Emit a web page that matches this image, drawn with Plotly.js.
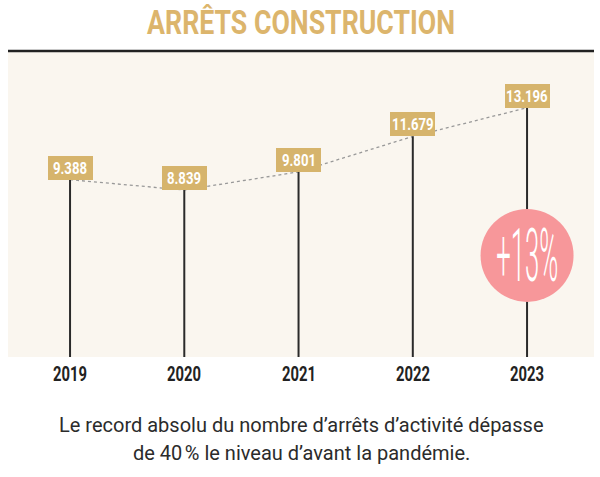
<!DOCTYPE html>
<html>
<head>
<meta charset="utf-8">
<script src="https://cdn.plot.ly/plotly-3.0.1.min.js"></script>
<style>
  html, body { margin: 0; padding: 0; background: #ffffff; }
  #chart { width: 600px; height: 477px; }
</style>
</head>
<body>
<div id="chart"></div>
<script>
// ---- data ----
const years = ['2019', '2020', '2021', '2022', '2023'];
const values = [9388, 8839, 9801, 11679, 13196];
const titleText = 'ARRÊTS CONSTRUCTION';
const captionLines = [
  'Le record absolu du nombre d’arrêts d’activité dépasse',
  'de 40\u202F% le niveau d’avant la pandémie.'
];

// ---- helpers ----
function fmt(v) {
  return String(v).replace(/\B(?=(\d{3})+(?!\d))/g, '.');
}
const last = values.length - 1;
const growth = Math.round((values[last] / values[last - 1] - 1) * 100);
const growthText = '+' + growth + '%';

const FONT = 'Roboto, Liberation Sans, sans-serif';
const GOLD = '#d6b46c';
const BADGE_Y = 5380;

// stems from 0 to value
const stemX = [], stemY = [];
years.forEach((y, i) => { stemX.push(y, y, null); stemY.push(0, values[i], null); });

const traces = [
  {
    x: years, y: values, type: 'scatter', mode: 'lines',
    line: { color: '#999999', width: 1.3, dash: 'dot' },
    hoverinfo: 'skip', showlegend: false
  },
  {
    x: stemX, y: stemY, type: 'scatter', mode: 'lines',
    line: { color: '#2a2a2a', width: 2 },
    hoverinfo: 'skip', showlegend: false
  },
  {
    x: [years[last]], y: [BADGE_Y], type: 'scatter', mode: 'markers',
    marker: { size: 93, color: '#f7979a', line: { width: 0 } },
    hoverinfo: 'skip', showlegend: false
  }
];

const annotations = [];

// value label boxes
years.forEach((y, i) => annotations.push({
  x: i, y: values[i], xref: 'x', yref: 'y',
  xanchor: 'center', yanchor: 'bottom',
  text: ' ', showarrow: false,
  font: { family: FONT, size: 12, color: GOLD },
  bgcolor: GOLD, borderpad: 0, borderwidth: 0,
  width: 45, height: 24
}));
// value label texts
years.forEach((y, i) => annotations.push({
  x: i, y: values[i], xref: 'x', yref: 'y', yshift: 12,
  xanchor: 'center', yanchor: 'middle',
  text: fmt(values[i]), showarrow: false,
  font: { family: FONT, size: 17, color: '#ffffff', weight: 'bold' }
}));

// year labels
years.forEach((y, i) => annotations.push({
  x: i, y: 0, xref: 'x', yref: 'paper', yshift: -17,
  xanchor: 'center', yanchor: 'middle', showarrow: false,
  text: y,
  font: { family: FONT, size: 20, color: '#222222', weight: 'bold' }
}));

// badge text
annotations.push({
  x: last, y: BADGE_Y, xref: 'x', yref: 'y',
  xanchor: 'center', yanchor: 'middle', showarrow: false,
  text: growthText,
  font: { family: FONT, size: 74, color: '#ffffff', weight: 300 }
});

// title
annotations.push({
  x: 0.5, xref: 'paper', y: 1, yref: 'paper', yshift: 29,
  xanchor: 'center', yanchor: 'middle', showarrow: false,
  text: titleText,
  font: { family: FONT, size: 34, color: '#dcb56c', weight: 'bold' }
});

// caption
captionLines.forEach((t, i) => {
  annotations.push({
    x: 0.5, xref: 'paper', y: 0, yref: 'paper', yshift: -68 - 28 * i,
    xanchor: 'center', yanchor: 'middle', showarrow: false,
    text: t,
    font: { family: FONT, size: 20, color: '#2b2b2b' }
  });
});

const layout = {
  width: 600, height: 477,
  margin: { l: 8, r: 6, t: 51, b: 120 },
  paper_bgcolor: '#ffffff',
  plot_bgcolor: '#faf6ef',
  xaxis: {
    type: 'category', range: [-0.543, 4.586],
    showgrid: false, zeroline: false, showline: false, ticks: '',
    showticklabels: false, fixedrange: true
  },
  yaxis: {
    range: [0, 16200], visible: false, showgrid: false, zeroline: false, fixedrange: true
  },
  shapes: [{
    type: 'line', xref: 'paper', yref: 'paper', x0: 0, x1: 1, y0: 1, y1: 1,
    line: { color: '#222222', width: 2.5 }
  }],
  annotations: annotations,
  showlegend: false
};

function squeeze(el, k) {
  el.style.transformBox = 'fill-box';
  el.style.transformOrigin = 'center';
  el.style.transform = 'scaleX(' + k + ')';
}

Plotly.newPlot('chart', traces, layout, { displayModeBar: false, staticPlot: true }).then(gd => {
  const texts = Array.from(gd.querySelectorAll('text.annotation-text'));
  const find = t => texts.find(e => e.textContent === t);
  const w = el => el ? el.getBBox().width : 0;

  const tEl = find(titleText);
  if (tEl && w(tEl)) squeeze(tEl, 308 / w(tEl));

  const y0 = find(years[0]);
  if (y0 && w(y0)) {
    const k = 34 / w(y0);
    years.forEach(y => { const e = find(y); if (e) squeeze(e, k); });
  }

  const v0 = find(fmt(values[0]));
  if (v0 && w(v0)) {
    const k = 34 / w(v0);
    values.forEach(v => { const e = find(fmt(v)); if (e) squeeze(e, k); });
  }

  const b = find(growthText);
  if (b && w(b)) squeeze(b, 62 / w(b));
});
</script>
</body>
</html>
